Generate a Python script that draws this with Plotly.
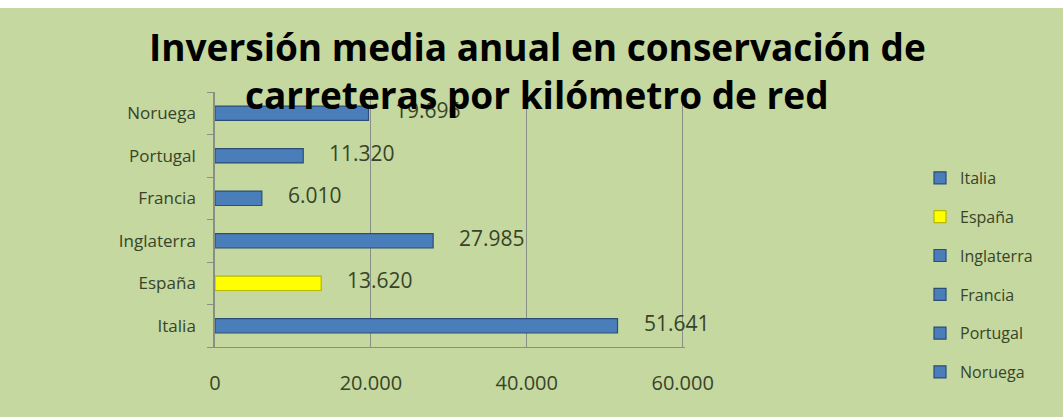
import plotly.graph_objects as go

# Average annual road maintenance investment per km of network
countries = ["Italia", "España", "Inglaterra", "Francia", "Portugal", "Noruega"]
values = [51641, 13620, 27985, 6010, 11320, 19696]
colors = ["#4a7ebb", "#ffff00", "#4a7ebb", "#4a7ebb", "#4a7ebb", "#4a7ebb"]
outlines = ["#2c4d75", "#b8b800", "#2c4d75", "#2c4d75", "#2c4d75", "#2c4d75"]
x_ticks = [0, 20000, 40000, 60000]

title_lines = ["Inversión media anual en conservación de",
               "carreteras por kilómetro de red"]

green = "#c5d89f"
text_col = "#384429"
grid_col = "#8a8f86"
font_fam = "Open Sans, sans-serif"

# plot area in pixels: x 215..685, y 92..347
PL, PR = 215, 685
PT, PB = 92, 347


def px_x(x):
    """pixel column -> paper x"""
    return (x - PL) / (PR - PL)


def py(y):
    """pixel row -> paper y"""
    return (PB - y) / (PB - PT)


def fmt(v):
    return f"{v:,}".replace(",", ".")


fig = go.Figure()
for name, val, col, line in zip(countries, values, colors, outlines):
    fig.add_trace(go.Bar(
        y=[name], x=[val], name=name, orientation="h",
        marker=dict(color=col, line=dict(color=line, width=1.2)),
        width=0.34, legendgroup=name,
    ))

# value labels to the right of each bar
for name, val in zip(countries, values):
    fig.add_annotation(
        x=val, y=name, text=fmt(val), showarrow=False,
        xanchor="left", xshift=24, yshift=3,
        font=dict(family=font_fam, size=21, color=text_col),
    )

# two-line title drawn over the top of the chart
for line_text, centre in zip(title_lines, [47, 95]):
    fig.add_annotation(
        xref="paper", yref="paper", x=px_x(537), y=py(centre),
        text=f"<b>{line_text}</b>", showarrow=False,
        xanchor="center", yanchor="middle",
        font=dict(family=font_fam, size=37, color="#000000"),
    )

# white strip along the top edge
fig.add_shape(type="rect", xref="paper", yref="paper",
              x0=-0.5, x1=1.9, y0=py(8), y1=1.5,
              fillcolor="white", line=dict(width=0), layer="below")

fig.update_layout(
    width=1063, height=417,
    margin=dict(l=PL, r=1063 - PR, t=PT, b=417 - PB),
    paper_bgcolor=green, plot_bgcolor=green,
    barmode="overlay",
    separators=",.",
    legend=dict(x=px_x(920), y=py(161), xanchor="left", yanchor="top",
                traceorder="grouped", tracegroupgap=15,
                font=dict(family=font_fam, size=16, color=text_col),
                bgcolor="rgba(0,0,0,0)", itemwidth=30),
    showlegend=True,
    xaxis=dict(range=[0, 60300], tickvals=x_ticks, tickformat=",d",
               showgrid=True, gridcolor=grid_col, gridwidth=1,
               showline=True, linecolor=grid_col, linewidth=1,
               zeroline=False, ticks="", ticklabelstandoff=18,
               tickfont=dict(family=font_fam, size=20, color=text_col)),
    yaxis=dict(categoryorder="array", categoryarray=countries,
               showline=True, linecolor=grid_col, linewidth=1.5,
               ticks="outside", tickson="boundaries", ticklen=6,
               tickcolor=grid_col, showgrid=False, ticklabelstandoff=14,
               tickfont=dict(family=font_fam, size=17, color=text_col)),
)

fig.write_html("out.html")
